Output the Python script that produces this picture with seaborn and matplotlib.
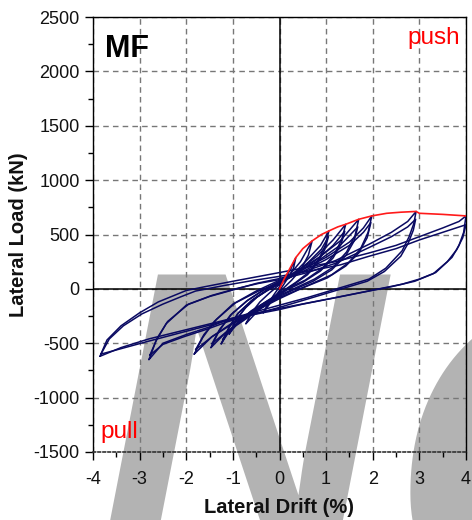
import matplotlib
matplotlib.use("Agg")
import matplotlib.pyplot as plt
import seaborn as sns
import pandas as pd

# ---------------- data ----------------
env_drift = [0.00, 0.10, 0.20, 0.35, 0.50, 0.70, 0.90, 1.06, 1.25, 1.42, 1.70, 1.98, 2.30, 2.60, 2.93, 3.00, 3.50, 4.00]
env_load = [0, 90, 170, 288, 370, 441, 500, 533, 570, 594, 640, 671, 695, 705, 712, 695, 685, 671]

loopA_drift = [-0.35, -0.25, -0.13, 0.00, 0.12, 0.24, 0.35, 0.30, 0.18, 0.06, -0.06, -0.18, -0.35]
loopA_load = [-220, -140, -60, 20, 100, 180, 288, 190, 100, 20, -50, -120, -220]

loopB_drift = [-0.72, -0.60, -0.42, -0.22, 0.00, 0.22, 0.45, 0.70, 0.62, 0.46, 0.26, 0.00, -0.22, -0.46, -0.72]
loopB_load = [-320, -220, -120, -40, 40, 130, 250, 441, 310, 180, 80, -30, -110, -200, -320]

loopC_drift = [-1.08, -0.95, -0.75, -0.50, -0.25, 0.00, 0.30, 0.60, 0.88, 1.06, 0.98, 0.84, 0.62, 0.35, 0.00, -0.30, -0.60, -0.85, -1.08]
loopC_load = [-415, -300, -180, -80, -10, 50, 140, 270, 400, 533, 400, 270, 150, 60, -40, -120, -200, -290, -415]

loopC2_drift = [-1.05, -0.92, -0.72, -0.48, -0.22, 0.00, 0.30, 0.62, 0.90, 1.05, 0.97, 0.82, 0.60, 0.32, 0.00, -0.32, -0.62, -0.86, -1.05]
loopC2_load = [-385, -280, -170, -75, -5, 45, 125, 245, 365, 480, 360, 240, 130, 45, -50, -130, -210, -290, -385]

loopD_drift = [-1.25, -1.10, -0.90, -0.60, -0.30, 0.00, 0.40, 0.80, 1.15, 1.42, 1.34, 1.18, 0.92, 0.55, 0.20, 0.00, -0.40, -0.80, -1.05, -1.25]
loopD_load = [-505, -370, -230, -110, -20, 60, 170, 300, 450, 594, 460, 320, 190, 80, 10, -40, -150, -270, -370, -505]

loopD2_drift = [-1.22, -1.07, -0.87, -0.58, -0.28, 0.00, 0.40, 0.80, 1.15, 1.40, 1.32, 1.15, 0.88, 0.50, 0.18, 0.00, -0.40, -0.80, -1.04, -1.22]
loopD2_load = [-470, -345, -215, -100, -15, 50, 150, 270, 400, 530, 410, 285, 165, 60, -5, -55, -165, -280, -370, -470]

loopE_drift = [-1.47, -1.30, -1.05, -0.70, -0.35, 0.00, 0.40, 0.85, 1.30, 1.70, 1.62, 1.44, 1.15, 0.75, 0.35, 0.00, -0.40, -0.80, -1.15, -1.47]
loopE_load = [-540, -390, -240, -110, -10, 70, 170, 290, 440, 640, 490, 340, 200, 90, 10, -60, -170, -290, -400, -540]

loopE2_drift = [-1.45, -1.28, -1.02, -0.68, -0.33, 0.00, 0.40, 0.85, 1.30, 1.68, 1.60, 1.42, 1.12, 0.72, 0.32, 0.00, -0.40, -0.80, -1.15, -1.45]
loopE2_load = [-505, -370, -230, -105, -10, 60, 150, 265, 400, 570, 440, 305, 175, 70, -5, -70, -180, -300, -400, -505]

loopF_drift = [-1.83, -1.65, -1.40, -1.00, -0.50, 0.00, 0.50, 1.00, 1.50, 1.80, 1.98, 1.90, 1.74, 1.48, 1.12, 0.60, 0.00, -0.50, -1.00, -1.45, -1.83]
loopF_load = [-600, -450, -300, -140, -20, 80, 180, 290, 430, 560, 671, 520, 370, 240, 130, 30, -80, -190, -310, -440, -600]

loopF2_drift = [-1.80, -1.62, -1.35, -0.95, -0.45, 0.00, 0.50, 1.00, 1.50, 1.80, 1.96, 1.88, 1.70, 1.42, 1.02, 0.50, 0.00, -0.50, -1.00, -1.45, -1.80]
loopF2_load = [-560, -420, -280, -130, -20, 60, 160, 270, 400, 520, 610, 470, 330, 210, 100, 10, -90, -200, -320, -440, -560]

loopG_drift = [-2.80, -2.65, -2.43, -2.00, -1.50, -1.00, -0.50, 0.00, 0.60, 1.20, 1.92, 2.40, 2.75, 2.93, 2.88, 2.78, 2.63, 2.28, 1.92, 1.30, 0.60, 0.00, -0.60, -1.10, -1.50, -2.00, -2.50, -2.80]
loopG_load = [-650, -480, -320, -150, -70, -10, 50, 95, 170, 260, 410, 520, 620, 712, 600, 480, 350, 190, 90, 10, -80, -150, -220, -280, -350, -420, -500, -650]

loopG2_drift = [-2.78, -2.62, -2.40, -1.95, -1.45, -0.95, -0.45, 0.00, 0.60, 1.20, 1.92, 2.40, 2.75, 2.92, 2.87, 2.76, 2.60, 2.25, 1.88, 1.25, 0.55, 0.00, -0.60, -1.10, -1.55, -2.05, -2.50, -2.78]
loopG2_load = [-610, -450, -300, -140, -60, 0, 50, 85, 150, 235, 380, 480, 570, 640, 540, 420, 300, 160, 70, -10, -100, -170, -240, -300, -370, -440, -510, -610]

loopH_drift = [-3.85, -3.70, -3.40, -3.00, -2.60, -2.20, -2.00, -1.60, -1.00, -0.50, 0.00, 0.60, 1.20, 1.92, 2.50, 3.00, 3.50, 3.85, 4.00, 3.95, 3.85, 3.70, 3.35, 3.00, 2.63, 1.92, 1.20, 0.60, 0.00, -0.60, -1.10, -1.95, -2.80, -3.40, -3.85]
loopH_load = [-620, -470, -340, -220, -120, -50, -15, 20, 70, 110, 150, 200, 250, 330, 400, 480, 560, 620, 671, 520, 400, 290, 150, 90, 43, -18, -80, -130, -180, -230, -280, -370, -460, -540, -620]

loopH2_drift = [-3.83, -3.65, -3.35, -2.95, -2.50, -2.10, -1.80, -1.20, -0.60, 0.00, 0.60, 1.30, 1.92, 2.50, 3.00, 3.50, 4.00, 3.93, 3.80, 3.60, 3.30, 2.90, 2.40, 1.80, 1.10, 0.50, 0.00, -0.60, -1.20, -2.00, -2.80, -3.40, -3.83]
loopH2_load = [-600, -460, -340, -230, -140, -70, -20, 30, 75, 115, 160, 220, 300, 370, 450, 520, 590, 470, 360, 250, 140, 70, 20, -30, -90, -140, -190, -240, -300, -390, -480, -550, -600]

x_ticks = [-4, -3, -2, -1, 0, 1, 2, 3, 4]
y_ticks = [-1500, -1000, -500, 0, 500, 1000, 1500, 2000, 2500]
watermark = ["N", "o"]

# ---------------- build long table ----------------
loops = {
    "A": (loopA_drift, loopA_load), "B": (loopB_drift, loopB_load),
    "C": (loopC_drift, loopC_load), "C2": (loopC2_drift, loopC2_load),
    "D": (loopD_drift, loopD_load), "D2": (loopD2_drift, loopD2_load),
    "E": (loopE_drift, loopE_load), "E2": (loopE2_drift, loopE2_load),
    "F": (loopF_drift, loopF_load), "F2": (loopF2_drift, loopF2_load),
    "G": (loopG_drift, loopG_load), "G2": (loopG2_drift, loopG2_load),
    "H": (loopH_drift, loopH_load), "H2": (loopH2_drift, loopH2_load),
}
rows = []
for name, (dd, ll) in loops.items():
    for i, (d, l) in enumerate(zip(dd, ll)):
        rows.append({"loop": name, "order": i, "drift": d, "load": l})
df = pd.DataFrame(rows)
env = pd.DataFrame({"drift": env_drift, "load": env_load})

# ---------------- style ----------------
sns.set_theme(style="white")
plt.rcParams["font.family"] = ["Liberation Sans", "DejaVu Sans"]

fig = plt.figure(figsize=(4.72, 5.2), dpi=100)
ax = fig.add_axes([93 / 472, 1 - 452 / 520, 373 / 472, 435 / 520])
ax.patch.set_alpha(0)

# watermark letters behind the axes
wm = dict(color="#b3b3b3", fontweight="bold", fontstyle="italic",
          family="Liberation Sans", zorder=-5, va="baseline", ha="left")
fig.text(97 / 472, -27 / 520, watermark[0], fontsize=285, **wm)
fig.text(392 / 472, -95 / 520, watermark[1], fontsize=430, **wm)

navy = "#0a0a62"
sns.lineplot(data=df, x="drift", y="load", units="loop", estimator=None, sort=False,
             color=navy, linewidth=1.1, ax=ax, zorder=3)
sns.lineplot(data=env, x="drift", y="load", estimator=None, sort=False,
             color="#ff1a1a", linewidth=1.2, ax=ax, zorder=4)

ax.set_xlim(-4, 4)
ax.set_ylim(-1500, 2500)
ax.set_xticks(x_ticks)
ax.set_yticks(y_ticks)
ax.set_xticks([-3.5, -2.5, -1.5, -0.5, 0.5, 1.5, 2.5, 3.5], minor=True)
ax.set_yticks([-1250, -750, -250, 250, 750, 1250, 1750, 2250], minor=True)
ax.set_xticklabels([str(t) for t in x_ticks], fontsize=13)
ax.set_yticklabels([str(t) for t in y_ticks], fontsize=13)

ax.grid(True, which="major", linestyle=(0, (4, 3)), color="#777777", linewidth=1.0, zorder=1)
ax.axhline(0, color="black", linewidth=1.1, zorder=2)
ax.axvline(0, color="black", linewidth=1.1, zorder=2)

ax.tick_params(axis="both", which="major", direction="out", length=6, width=1.0,
               color="black", pad=3.5, labelcolor="#111111", left=True, bottom=True)
ax.tick_params(axis="x", which="major", pad=8)
ax.tick_params(axis="both", which="minor", direction="out", length=3.5, width=1.0,
               color="black", left=True, bottom=True)
for s in ["left", "top", "right"]:
    ax.spines[s].set_color("black")
    ax.spines[s].set_linewidth(1.0)
ax.spines["bottom"].set_color("#333333")
ax.spines["bottom"].set_linestyle((0, (1.5, 1.5)))
ax.spines["bottom"].set_linewidth(1.2)

ax.set_xlabel("Lateral Drift (%)", fontsize=14.5, fontweight="bold", labelpad=7, color="#111111")
ax.set_ylabel("Lateral Load (kN)", fontsize=14.5, fontweight="bold", labelpad=4, color="#111111")

ax.text(0.032, 0.962, "MF", transform=ax.transAxes, fontsize=22, fontweight="bold",
        ha="left", va="top", color="black")
ax.text(0.984, 0.978, "push", transform=ax.transAxes, fontsize=17.5, color="#ff0000",
        ha="right", va="top")
ax.text(0.019, 0.032, "pull", transform=ax.transAxes, fontsize=17.5, color="#ff0000",
        ha="left", va="baseline")

fig.savefig("out.png", dpi=100)
